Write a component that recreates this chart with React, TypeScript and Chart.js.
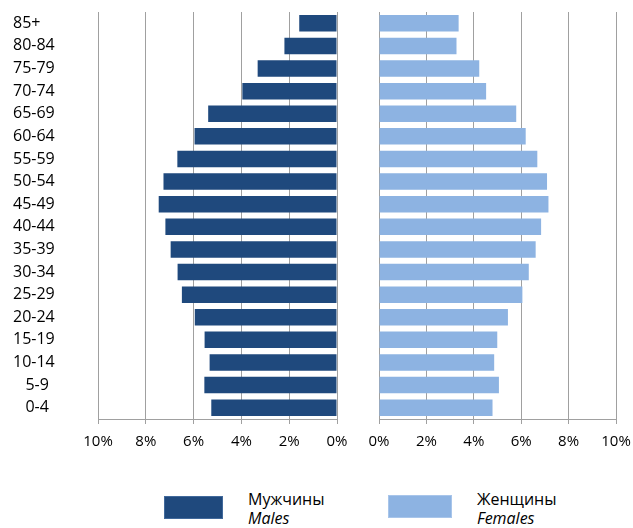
import React, { useEffect, useRef } from "react";
import { Chart, registerables } from "chart.js";

Chart.register(...registerables);

const ageGroups = [
  "   0-4", "   5-9", "10-14", "15-19", "20-24", "25-29", "30-34", "35-39", "40-44",
  "45-49", "50-54", "55-59", "60-64", "65-69", "70-74", "75-79", "80-84", "85+",
];
const males = [5.26, 5.55, 5.33, 5.54, 5.95, 6.49, 6.67, 6.96, 7.18, 7.46, 7.26, 6.68, 5.96, 5.39, 3.96, 3.32, 2.2, 1.58];
const females = [4.79, 5.06, 4.86, 4.99, 5.44, 6.05, 6.32, 6.61, 6.84, 7.15, 7.09, 6.68, 6.19, 5.79, 4.52, 4.23, 3.27, 3.36];
const axisTicks = [0, 2, 4, 6, 8, 10];
const maleLabel = ["Мужчины", "Males"];
const femaleLabel = ["Женщины", "Females"];

const MALE_COLOR = "#1F497D";
const FEMALE_COLOR = "#8DB3E2";
const GRID = "#a0a0a0";
const FONT = "'Open Sans', sans-serif";

function makeConfig(values: number[], color: string, left: boolean): any {
  return {
    type: "bar",
    data: {
      labels: ageGroups,
      datasets: [
        {
          data: values,
          backgroundColor: color,
          borderWidth: 0,
          barPercentage: 0.73,
          categoryPercentage: 1,
        },
      ],
    },
    options: {
      indexAxis: "y",
      animation: false,
      responsive: false,
      maintainAspectRatio: false,
      events: [],
      layout: {
        padding: left
          ? { left: 13, right: 13, top: 12, bottom: 0 }
          : { left: 34, right: 17, top: 12, bottom: 0 },
      },
      plugins: { legend: { display: false }, tooltip: { enabled: false } },
      scales: {
        x: {
          type: "linear",
          reverse: left,
          min: axisTicks[0],
          max: axisTicks[axisTicks.length - 1],
          afterBuildTicks: (scale: any) => {
            scale.ticks = axisTicks.map((v) => ({ value: v }));
          },
          afterFit: (scale: any) => {
            scale.height = 41;
            scale.paddingLeft = 0;
            scale.paddingRight = 0;
          },
          grid: { color: GRID, lineWidth: 1, tickLength: 5, drawTicks: true },
          border: { display: true, color: GRID, width: 1 },
          ticks: {
            color: "#000",
            padding: 9,
            font: { family: FONT, size: 15 },
            maxRotation: 0,
            callback: (v: any) => v + "%",
          },
        },
        y: {
          type: "category",
          reverse: true,
          display: left,
          afterFit: (scale: any) => {
            scale.width = left ? 85 : 0;
            scale.paddingTop = 0;
            scale.paddingBottom = 0;
          },
          grid: { display: false, drawTicks: false },
          border: { display: false },
          ticks: {
            crossAlign: "far",
            color: "#000",
            padding: 0,
            font: { family: FONT, size: 16 },
          },
        },
      },
    },
  };
}

export default function App() {
  const leftRef = useRef<HTMLCanvasElement>(null);
  const rightRef = useRef<HTMLCanvasElement>(null);

  useEffect(() => {
    const c1 = new Chart(leftRef.current!, makeConfig(males, MALE_COLOR, true));
    const c2 = new Chart(rightRef.current!, makeConfig(females, FEMALE_COLOR, false));
    return () => {
      c1.destroy();
      c2.destroy();
    };
  }, []);

  const textStyle = (left: number): React.CSSProperties => ({
    position: "absolute",
    left,
    top: 490,
    fontFamily: FONT,
    fontSize: 16,
    lineHeight: "19px",
    color: "#000",
    whiteSpace: "nowrap",
  });

  return (
    <div style={{ position: "absolute", left: 0, top: 0, width: 633, height: 528, background: "#fff", overflow: "hidden" }}>
      <canvas ref={leftRef} width={350} height={460} style={{ position: "absolute", left: 0, top: 0, width: 350, height: 460 }} />
      <canvas ref={rightRef} width={288} height={460} style={{ position: "absolute", left: 345, top: 0, width: 288, height: 460 }} />
      <div style={{ position: "absolute", left: 164, top: 496, width: 59, height: 23, boxSizing: "border-box", background: MALE_COLOR, border: "1px solid #41699b" }} />
      <div style={textStyle(248)}>
        <div>{maleLabel[0]}</div>
        <div style={{ fontStyle: "italic" }}>{maleLabel[1]}</div>
      </div>
      <div style={{ position: "absolute", left: 388, top: 495, width: 64, height: 23, boxSizing: "border-box", background: FEMALE_COLOR, border: "1px solid #a8c5ea" }} />
      <div style={textStyle(477)}>
        <div>{femaleLabel[0]}</div>
        <div style={{ fontStyle: "italic" }}>{femaleLabel[1]}</div>
      </div>
    </div>
  );
}
